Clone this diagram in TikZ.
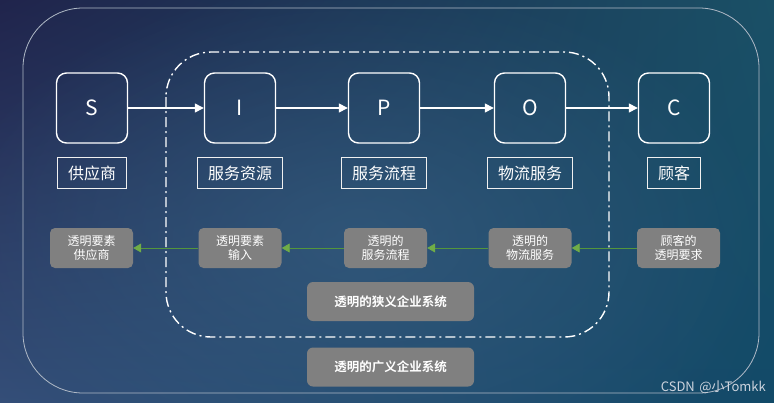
\documentclass[tikz,border=0pt]{standalone}
\usepackage{fontspec}
\setmainfont{Noto Sans CJK SC}[BoldFont={Noto Sans CJK SC Bold}]
\usetikzlibrary{arrows.meta,shadings,fadings}
\tikzfading[name=glowfade, inner color=transparent!0, outer color=transparent!100]
\definecolor{grayfill}{RGB}{128,128,128}
\definecolor{arrgreen}{RGB}{84,150,60}
\definecolor{tipgreen}{RGB}{112,173,71}
\definecolor{frameline}{RGB}{175,185,198}
\definecolor{bgUL}{RGB}{32,36,76}
\definecolor{bgUR}{RGB}{26,80,102}
\definecolor{bgLL}{RGB}{52,78,120}
\definecolor{bgLR}{RGB}{18,74,104}
\definecolor{bgGlow}{RGB}{60,100,135}
\tikzset{
  letterbox/.style={draw=white, line width=1.4pt, rounded corners=10pt, minimum width=71pt, minimum height=70pt, text=white, font=\fontsize{21}{21}\selectfont, inner sep=0pt},
  labelbox/.style={draw=white!88!gray, line width=1pt, minimum height=31pt, inner xsep=10.5pt, inner ysep=0pt, text=white, font=\fontsize{16}{16}\selectfont},
  graybox/.style={fill=grayfill, rounded corners=5pt, minimum width=83pt, minimum height=40pt, text=white, align=center, font=\fontsize{12}{14.5}\selectfont, inner sep=0pt},
  widebox/.style={fill=grayfill, rounded corners=6pt, minimum width=167pt, minimum height=39pt, text=white, font=\fontsize{12.5}{12.5}\selectfont\bfseries, inner sep=0pt},
  whitearrow/.style={draw=white, line width=1.4pt, -{Triangle[length=9pt,width=9pt]}},
  greenarrow/.style={draw=arrgreen, line width=0.8pt, -{Triangle[length=8pt,width=9pt,color=tipgreen]}},
}
\begin{document}
\begin{tikzpicture}[x=1pt,y=-1pt]
\useasboundingbox (0,0) rectangle (774,402);
\shade[upper left=bgUL, upper right=bgUR, lower left=bgLL, lower right=bgLR] (0,0) rectangle (774,402);
\fill[bgGlow, opacity=0.55, path fading=glowfade] (360,240) ellipse (420pt and 260pt);
% outer frame
\draw[frameline, line width=0.8pt, rounded corners=60pt] (23,8) rectangle (759,393);
% inner dash-dot frame
\draw[white, line width=1.4pt, dash pattern=on 10pt off 4pt on 2pt off 4pt, rounded corners=45pt] (166,52) rectangle (609,337);
% letter boxes
\node[letterbox] (S) at (92,108) {S};
\node[letterbox] (I) at (240,108) {I};
\node[letterbox] (P) at (384,108) {P};
\node[letterbox] (O) at (530,108) {O};
\node[letterbox] (C) at (674,108) {C};
\draw[whitearrow] (S) -- (I);
\draw[whitearrow] (I) -- (P);
\draw[whitearrow] (P) -- (O);
\draw[whitearrow] (O) -- (C);
% labels
\node[labelbox] (lS) at (92,173) {供应商};
\node[labelbox] (lI) at (240,173) {服务资源};
\node[labelbox] (lP) at (384,173) {服务流程};
\node[labelbox] (lO) at (530,173) {物流服务};
\node[labelbox] (lC) at (674,173) {顾客};
% gray boxes
\node[graybox] (gS) at (91.5,248) {透明要素\\供应商};
\node[graybox] (gI) at (240,248) {透明要素\\输入};
\node[graybox] (gP) at (385.5,248) {透明的\\服务流程};
\node[graybox] (gO) at (530,248) {透明的\\物流服务};
\node[graybox] (gC) at (678.5,248) {顾客的\\透明要求};
\draw[greenarrow] (gC) -- (gO);
\draw[greenarrow] (gO) -- (gP);
\draw[greenarrow] (gP) -- (gI);
\draw[greenarrow] (gI) -- (gS);
% bottom boxes
\node[widebox] (narrow) at (390.5,301.5) {透明的狭义企业系统};
\node[widebox] (broad) at (390.5,367) {透明的广义企业系统};
% watermark
\node[anchor=east, text={rgb,255:red,205;green,212;blue,222}, font=\fontsize{13}{13}\selectfont, inner sep=0pt] (wm) at (766,387) {CSDN\hspace{0.35em}@小Tomkk};
\end{tikzpicture}
\end{document}
